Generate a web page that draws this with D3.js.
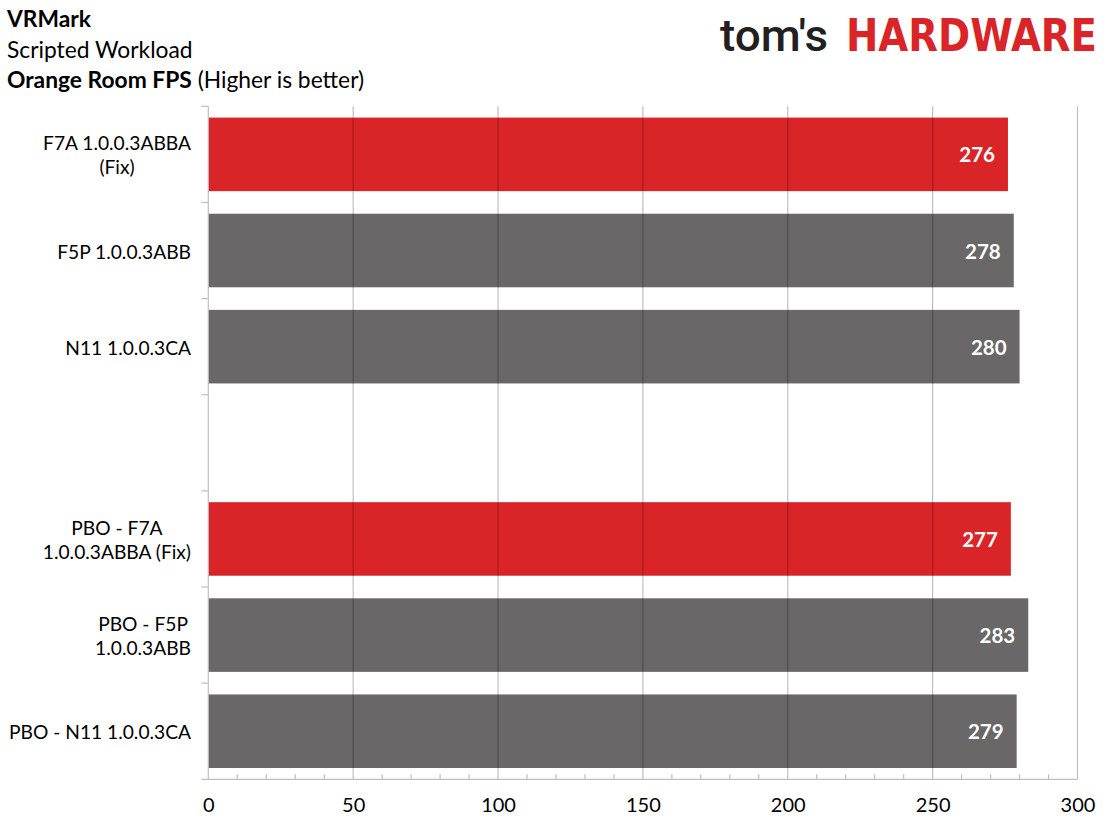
<!DOCTYPE html>
<html>
<head>
<meta charset="utf-8">
<script src="https://cdn.jsdelivr.net/npm/d3@7"></script>
<style>
  body { margin: 0; background: #fff; }
  svg { display: block; font-family: Lato, "Open Sans", sans-serif; }
</style>
</head>
<body>
<div id="chart-container"></div>
<script>
// data
const categories = [
  "F7A 1.0.0.3ABBA\n(Fix)",
  "F5P 1.0.0.3ABB",
  "N11 1.0.0.3CA",
  "",
  "PBO - F7A\n1.0.0.3ABBA (Fix)",
  "PBO - F5P\n1.0.0.3ABB",
  "PBO - N11 1.0.0.3CA"
];
const fps = [276, 278, 280, null, 277, 283, 279];
const xTicks = [0, 50, 100, 150, 200, 250, 300];
const titleLines = ["VRMark", "Scripted Workload"];
const subtitleBold = "Orange Room FPS";
const subtitleRest = " (Higher is better)";

{ // start block scope
  const color = {
    red: '#da2528',
    grey: '#696767',
    text: '#000000',
    axis: '#bfbfbf',
    logoDark: '#231f20'
  };

  const width = 1112;
  const height = 833;
  const plot = { left: 208.3, right: 1077.5, top: 106.3, bottom: 779.3 };

  const svg = d3.select('#chart-container')
    .append('svg')
    .attr('width', width)
    .attr('height', height);

  // scales
  const xScale = d3.scaleLinear()
    .domain([0, 300])
    .range([plot.left, plot.right]);

  const yScale = d3.scaleBand()
    .domain(d3.range(categories.length))
    .range([plot.top, plot.bottom])
    .paddingInner(0.235)
    .paddingOuter(0.1175);

  // title
  const title = svg.append('g').attr('fill', color.text);
  title.append('text')
    .attr('x', 7).attr('y', 27)
    .attr('font-size', 22.8).attr('font-weight', 'bold')
    .text(titleLines[0]);
  title.append('text')
    .attr('x', 7).attr('y', 57.5)
    .attr('font-size', 22.8)
    .text(titleLines[1]);
  const sub = title.append('text')
    .attr('x', 7).attr('y', 88)
    .attr('font-size', 22.8);
  sub.append('tspan').attr('font-weight', 'bold').text(subtitleBold);
  sub.append('tspan').text(subtitleRest);

  // logo
  const logo = svg.append('g');
  logo.append('text')
    .attr('x', 720).attr('y', 50.5)
    .attr('font-family', 'Roboto, sans-serif')
    .attr('font-weight', 500)
    .attr('font-size', 45)
    .attr('fill', color.logoDark)
    .attr('textLength', 108)
    .attr('lengthAdjust', 'spacingAndGlyphs')
    .text("tom's");
  logo.append('text')
    .attr('x', 846).attr('y', 50.5)
    .attr('font-family', '"DejaVu Sans Condensed", "DejaVu Sans", sans-serif')
    .attr('font-weight', 'bold')
    .attr('font-size', 45)
    .attr('fill', color.red)
    .attr('textLength', 251)
    .attr('lengthAdjust', 'spacingAndGlyphs')
    .text('HARDWARE');

  // bars
  const rows = categories.map((c, i) => ({ i, label: c, value: fps[i] }));
  const barRows = rows.filter(d => d.value != null);

  svg.append('g')
    .selectAll('rect')
    .data(barRows)
    .enter()
    .append('rect')
    .attr('x', xScale(0))
    .attr('y', d => yScale(d.i))
    .attr('width', d => xScale(d.value) - xScale(0))
    .attr('height', yScale.bandwidth())
    .attr('fill', d => d.label.includes('(Fix)') ? color.red : color.grey);

  // gridlines over bars
  svg.append('g')
    .selectAll('line')
    .data(xTicks.filter(t => t > 0))
    .enter()
    .append('line')
    .attr('x1', d => xScale(d)).attr('x2', d => xScale(d))
    .attr('y1', plot.top).attr('y2', plot.bottom)
    .attr('stroke', '#000')
    .attr('stroke-opacity', 0.25)
    .attr('stroke-width', 1.2);

  // minor ticks on x axis
  svg.append('g')
    .selectAll('line')
    .data(d3.range(10, 300, 10).filter(t => t % 50 !== 0))
    .enter()
    .append('line')
    .attr('x1', d => xScale(d)).attr('x2', d => xScale(d))
    .attr('y1', plot.bottom - 5).attr('y2', plot.bottom)
    .attr('stroke', color.axis)
    .attr('stroke-width', 1.2);

  // x axis
  const xAxis = d3.axisBottom(xScale)
    .tickValues(xTicks)
    .tickSize(0)
    .tickPadding(19)
    .tickFormat(d3.format('d'));
  const xAxisGroup = svg.append('g')
    .attr('transform', `translate(0, ${plot.bottom})`)
    .call(xAxis);
  xAxisGroup.select('.domain').remove();
  xAxisGroup.selectAll('text')
    .attr('font-family', 'Lato, sans-serif')
    .attr('font-size', 20)
    .attr('fill', color.text);
  svg.append('line')
    .attr('x1', plot.left - 7).attr('x2', plot.right)
    .attr('y1', plot.bottom).attr('y2', plot.bottom)
    .attr('stroke', color.axis)
    .attr('stroke-width', 1.2);

  // y axis with category separators
  svg.append('line')
    .attr('x1', plot.left).attr('x2', plot.left)
    .attr('y1', plot.top).attr('y2', plot.bottom)
    .attr('stroke', color.axis)
    .attr('stroke-width', 1.2);
  svg.append('g')
    .selectAll('line')
    .data(d3.range(categories.length))
    .enter()
    .append('line')
    .attr('x1', plot.left - 7).attr('x2', plot.left)
    .attr('y1', d => yScale(d) - yScale.step() * yScale.paddingOuter())
    .attr('y2', d => yScale(d) - yScale.step() * yScale.paddingOuter())
    .attr('stroke', color.axis)
    .attr('stroke-width', 1.2);

  // category labels (block right-aligned, lines centered)
  const labelRight = 191;
  const lineGap = 24;
  const labels = svg.append('g')
    .attr('font-size', 19.2)
    .attr('fill', color.text);
  rows.filter(d => d.label !== '').forEach(d => {
    const lines = d.label.split('\n');
    const cy = yScale(d.i) + yScale.bandwidth() / 2;
    const t = labels.append('text')
      .attr('text-anchor', 'middle')
      .attr('dominant-baseline', 'central');
    const spans = lines.map((l, k) => t.append('tspan')
      .attr('y', cy + (k - (lines.length - 1) / 2) * lineGap)
      .text(l));
    const w = d3.max(spans, s => s.node().getComputedTextLength());
    spans.forEach(s => s.attr('x', labelRight - w / 2));
  });

  // value labels
  svg.append('g')
    .selectAll('text')
    .data(barRows)
    .enter()
    .append('text')
    .attr('x', d => xScale(d.value) - 13)
    .attr('y', d => yScale(d.i) + yScale.bandwidth() / 2)
    .attr('text-anchor', 'end')
    .attr('dominant-baseline', 'central')
    .attr('font-size', 20.5)
    .attr('font-weight', 'bold')
    .attr('fill', '#fff')
    .text(d => d.value);
} // end block scope
</script>
</body>
</html>
